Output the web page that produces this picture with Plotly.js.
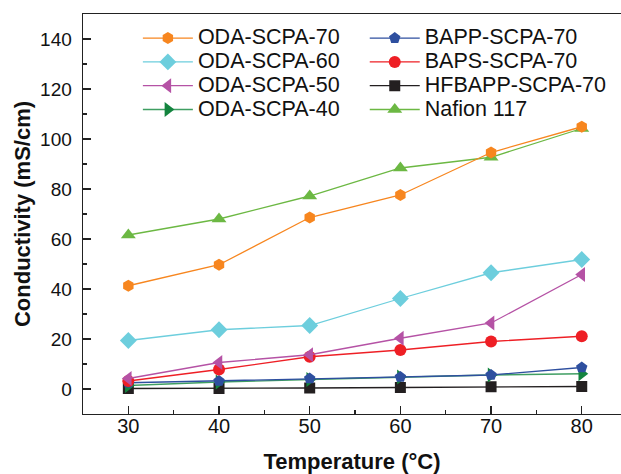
<!DOCTYPE html>
<html><head><meta charset="utf-8">
<script src="https://cdn.plot.ly/plotly-3.0.1.min.js"></script>
<style>html,body{margin:0;padding:0;background:#fff}#chart{width:621px;height:474px}</style>
</head><body><div id="chart"></div>
<script>
const temperatures = [30, 40, 50, 60, 70, 80];
const odaScpa70 = [41.3, 49.7, 68.6, 77.6, 94.6, 104.9];
const odaScpa60 = [19.4, 23.7, 25.4, 36.2, 46.5, 51.8];
const odaScpa50 = [4.2, 10.6, 13.7, 20.3, 26.4, 45.8];
const odaScpa40 = [1.4, 2.8, 3.8, 4.8, 5.6, 6.1];
const bappScpa70 = [2.5, 3.2, 4.2, 4.8, 5.6, 8.6];
const bapsScpa70 = [3.2, 7.8, 12.9, 15.6, 19.0, 21.1];
const hfbappScpa70 = [0.2, 0.2, 0.4, 0.6, 0.9, 1.0];
const nafion117 = [61.6, 68.0, 77.2, 88.4, 92.7, 104.2];

const legendLabelPx = 21.5;
function tr(name, y, color, lineColor, symbol, size, legend, rank) {
  return {x: temperatures, y: y, name: '<span style="font-size:' + legendLabelPx + 'px">' + name + '</span>',
    type: 'scatter', mode: 'lines+markers',
    line: {color: lineColor, width: 1.3},
    marker: {color: color, symbol: symbol, size: size, line: {width: 0}},
    legend: legend, legendrank: rank};
}
const data = [
  tr('HFBAPP-SCPA-70', hfbappScpa70, '#231f20', '#231f20', 'square', 11, 'legend2', 3),
  tr('ODA-SCPA-40', odaScpa40, '#13843e', '#3f9e62', 'triangle-right', 13, 'legend', 4),
  tr('BAPP-SCPA-70', bappScpa70, '#2e4f9f', '#2e4f9f', 'pentagon', 12, 'legend2', 1),
  tr('BAPS-SCPA-70', bapsScpa70, '#ee1f25', '#ee1f25', 'circle', 12, 'legend2', 2),
  tr('ODA-SCPA-50', odaScpa50, '#b552a5', '#b552a5', 'triangle-left', 13, 'legend', 3),
  tr('ODA-SCPA-60', odaScpa60, '#6dcedd', '#6dcedd', 'diamond', 13, 'legend', 2),
  tr('Nafion 117', nafion117, '#6cb843', '#6cb843', 'triangle-up', 13, 'legend2', 4),
  tr('ODA-SCPA-70', odaScpa70, '#f7861f', '#f7861f', 'hexagon', 12, 'legend', 1)
];
const font = 'Arial, "Liberation Sans", sans-serif';
const legendBase = {orientation: 'v', yanchor: 'top', xanchor: 'left', bgcolor: 'rgba(0,0,0,0)',
  font: {family: font, size: 16, color: '#111'}, itemwidth: 50, traceorder: 'normal', tracegroupgap: 0};
const axisCommon = {ticks: 'inside', ticklen: 8, tickwidth: 1.2, tickcolor: '#222',
  showline: true, linecolor: '#222', linewidth: 1.4, mirror: true, showgrid: false, zeroline: false};
const layout = {
  width: 621, height: 474,
  margin: {l: 83, r: 0, t: 14, b: 60},
  paper_bgcolor: '#fff', plot_bgcolor: '#fff',
  font: {family: font, color: '#111'},
  xaxis: Object.assign({}, axisCommon, {range: [25, 84.33], tickvals: [30, 40, 50, 60, 70, 80],
    minor: {dtick: 5, tick0: 0, ticks: 'inside', ticklen: 4, tickwidth: 1.2, tickcolor: '#222', showgrid: false},
    tickfont: {size: 20, family: font, color: '#111'}, ticklabelstandoff: -6,
    title: {text: 'Temperature (°C)', font: {size: 22, family: font, weight: 'bold', color: '#111'}, standoff: 20}}),
  yaxis: Object.assign({}, axisCommon, {range: [-10, 150], tickvals: [0, 20, 40, 60, 80, 100, 120, 140],
    minor: {dtick: 10, tick0: 0, ticks: 'inside', ticklen: 4, tickwidth: 1.2, tickcolor: '#222', showgrid: false},
    tickfont: {size: 19, family: font, color: '#111'}, ticklabelstandoff: 6,
    title: {text: 'Conductivity (mS/cm)', font: {size: 22, family: font, weight: 'bold', color: '#111'}, standoff: 3}}),
  legend: Object.assign({}, legendBase, {x: 0.102, y: 0.982}),
  legend2: Object.assign({}, legendBase, {x: 0.5237, y: 0.982}),
  showlegend: true
};
Plotly.newPlot('chart', data, layout, {displayModeBar: false, staticPlot: true});
</script></body></html>
